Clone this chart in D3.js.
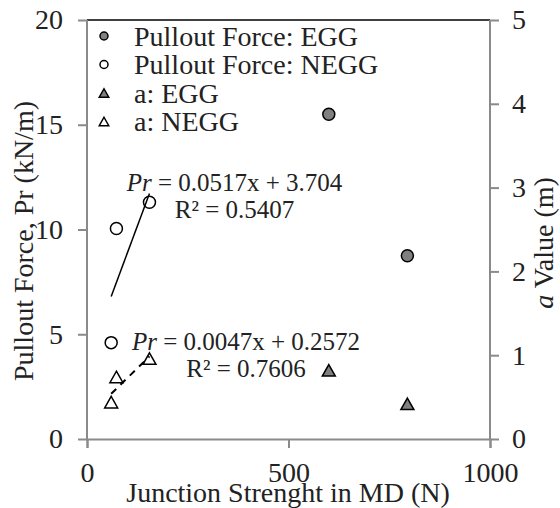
<!DOCTYPE html>
<html>
<head>
<meta charset="utf-8">
<script src="https://cdn.jsdelivr.net/npm/d3@7"></script>
<style>
  body { margin: 0; background: #fff; }
  svg text { font-family: "Liberation Serif", "Times New Roman", serif; fill: #222; }
</style>
</head>
<body>
<div id="chart"></div>
<script>
// data
var xTicks = [0, 500, 1000];
var leftTicks = [0, 5, 10, 15, 20];
var rightTicks = [0, 1, 2, 3, 4, 5];

var prEggX = [600, 795];
var prEggY = [15.5, 8.75];
var prNeggX = [60, 73, 155];
var prNeggY = [4.6, 10.05, 11.3];
var aEggX = [600, 795];
var aEggY = [0.82, 0.42];
var aNeggX = [60, 73, 155];
var aNeggY = [0.44, 0.74, 0.96];

// trendline equations as printed on the chart
var prTrend = [0.0517, 3.704];
var aTrend = [0.0047, 0.2572];

var legendLabels = ["Pullout Force: EGG", "Pullout Force: NEGG", "a: EGG", "a: NEGG"];

var w = 560, h = 508;
var pLeft = 87, pRight = 490, pTop = 20, pBottom = 439;
var axisColor = "#8a8a8a";
var markGray = "#808080";

var svg = d3.select("#chart").append("svg")
    .attr("width", w)
    .attr("height", h);

var x = d3.scaleLinear().domain([0, 1000]).range([pLeft, pRight]);
var yL = d3.scaleLinear().domain([0, 20]).range([pBottom, pTop]);
var yR = d3.scaleLinear().domain([0, 5]).range([pBottom, pTop]);

function zip(xs, ys) { return xs.map(function(v, i) { return {x: v, y: ys[i]}; }); }

// top border
svg.append("line")
    .attr("x1", pLeft).attr("x2", pRight)
    .attr("y1", pTop).attr("y2", pTop)
    .attr("stroke", "#000").attr("stroke-width", 1.5);

// axes
var gx = svg.append("g")
    .attr("transform", "translate(0," + pBottom + ")")
    .call(d3.axisBottom(x).tickValues(xTicks).tickSize(9).tickPadding(14).tickFormat(d3.format("d")));

var gl = svg.append("g")
    .attr("transform", "translate(" + pLeft + ",0)")
    .call(d3.axisLeft(yL).tickValues(leftTicks).tickSize(9).tickPadding(15).tickFormat(d3.format("d")));

var gr = svg.append("g")
    .attr("transform", "translate(" + pRight + ",0)")
    .call(d3.axisRight(yR).tickValues(rightTicks).tickSize(9).tickPadding(13).tickFormat(d3.format("d")));

[gx, gl, gr].forEach(function(g) {
  g.attr("font-family", null);
  g.select(".domain").attr("stroke", axisColor).attr("stroke-width", 2);
  g.selectAll(".tick line").attr("stroke", axisColor).attr("stroke-width", 2);
  g.selectAll(".tick text")
    .attr("font-size", 28)
    .attr("fill", "#222");
});
gx.selectAll(".tick text").attr("dy", "0.71em");
gl.select(".domain").attr("d", "M0," + pTop + "V" + pBottom);
gr.select(".domain").attr("d", "M0," + pTop + "V" + pBottom);

// axis titles
svg.append("text")
    .attr("x", 288)
    .attr("y", 502)
    .attr("text-anchor", "middle")
    .attr("font-size", 28)
    .text("Junction Strenght in MD (N)");

svg.append("text")
    .attr("transform", "translate(33,241) rotate(-90)")
    .attr("text-anchor", "middle")
    .attr("font-size", 28)
    .text("Pullout Force, Pr (kN/m)");

var rt = svg.append("text")
    .attr("transform", "translate(553,243) rotate(-90)")
    .attr("text-anchor", "middle")
    .attr("font-size", 28);
rt.append("tspan").attr("font-style", "italic").text("a");
rt.append("tspan").text(" Value (m)");

// trendlines
var prLine = [60, 155].map(function(v) { return {x: v, y: prTrend[0] * v + prTrend[1]}; });
var aLine = [60, 155].map(function(v) { return {x: v, y: aTrend[0] * v + aTrend[1]}; });

svg.append("path")
    .datum(prLine)
    .attr("fill", "none")
    .attr("stroke", "#000")
    .attr("stroke-width", 1.5)
    .attr("d", d3.line().x(function(d) { return x(d.x); }).y(function(d) { return yL(d.y); }));

svg.append("path")
    .datum(aLine)
    .attr("fill", "none")
    .attr("stroke", "#000")
    .attr("stroke-width", 2)
    .attr("stroke-dasharray", "7,6")
    .attr("d", d3.line().x(function(d) { return x(d.x); }).y(function(d) { return yR(d.y); }));

// markers
function tri(cx, cy, s, hh) {
  return "M" + cx + "," + (cy - hh / 2) + "L" + (cx + s / 2) + "," + (cy + hh / 2) + "L" + (cx - s / 2) + "," + (cy + hh / 2) + "Z";
}

svg.selectAll(".pregg").data(zip(prEggX, prEggY)).enter().append("circle")
    .attr("cx", function(d) { return x(d.x); })
    .attr("cy", function(d) { return yL(d.y); })
    .attr("r", 6)
    .attr("fill", markGray).attr("stroke", "#000").attr("stroke-width", 1.5);

svg.selectAll(".prnegg").data(zip(prNeggX, prNeggY)).enter().append("circle")
    .attr("cx", function(d) { return x(d.x); })
    .attr("cy", function(d) { return yL(d.y); })
    .attr("r", 6)
    .attr("fill", "none").attr("stroke", "#000").attr("stroke-width", 1.5);

svg.selectAll(".aegg").data(zip(aEggX, aEggY)).enter().append("path")
    .attr("d", function(d) { return tri(x(d.x), yR(d.y), 13, 11.5); })
    .attr("fill", markGray).attr("stroke", "#000").attr("stroke-width", 1.5);

svg.selectAll(".anegg").data(zip(aNeggX, aNeggY)).enter().append("path")
    .attr("d", function(d) { return tri(x(d.x), yR(d.y), 13, 11.5); })
    .attr("fill", "none").attr("stroke", "#000").attr("stroke-width", 1.5);

// equation labels
function eq(cx, y1, coef, r2) {
  var t = svg.append("text").attr("x", cx).attr("y", y1)
      .attr("text-anchor", "middle").attr("font-size", 25);
  t.append("tspan").attr("font-style", "italic").text("Pr");
  t.append("tspan").text(" = " + coef[0] + "x + " + coef[1]);
  svg.append("text").attr("x", cx).attr("y", y1 + 27)
      .attr("text-anchor", "middle").attr("font-size", 25)
      .text("R\u00b2 = " + r2);
}
eq(234.5, 191, prTrend, "0.5407");
eq(246, 350, aTrend, "0.7606");

// legend
var leg = svg.append("g");
legendLabels.forEach(function(lab, i) {
  var cy = 36 + i * 28.5;
  if (i < 2) {
    leg.append("circle").attr("cx", 104).attr("cy", cy).attr("r", 4)
      .attr("fill", i === 0 ? markGray : "#fff").attr("stroke", "#000").attr("stroke-width", 1.5);
  } else {
    leg.append("path").attr("d", tri(104, cy, 9.5, 8.5))
      .attr("fill", i === 2 ? markGray : "#fff").attr("stroke", "#000").attr("stroke-width", 1.5);
  }
  leg.append("text").attr("x", 134).attr("y", cy + 9.5)
    .attr("font-size", 28).text(lab);
});
</script>
</body>
</html>
